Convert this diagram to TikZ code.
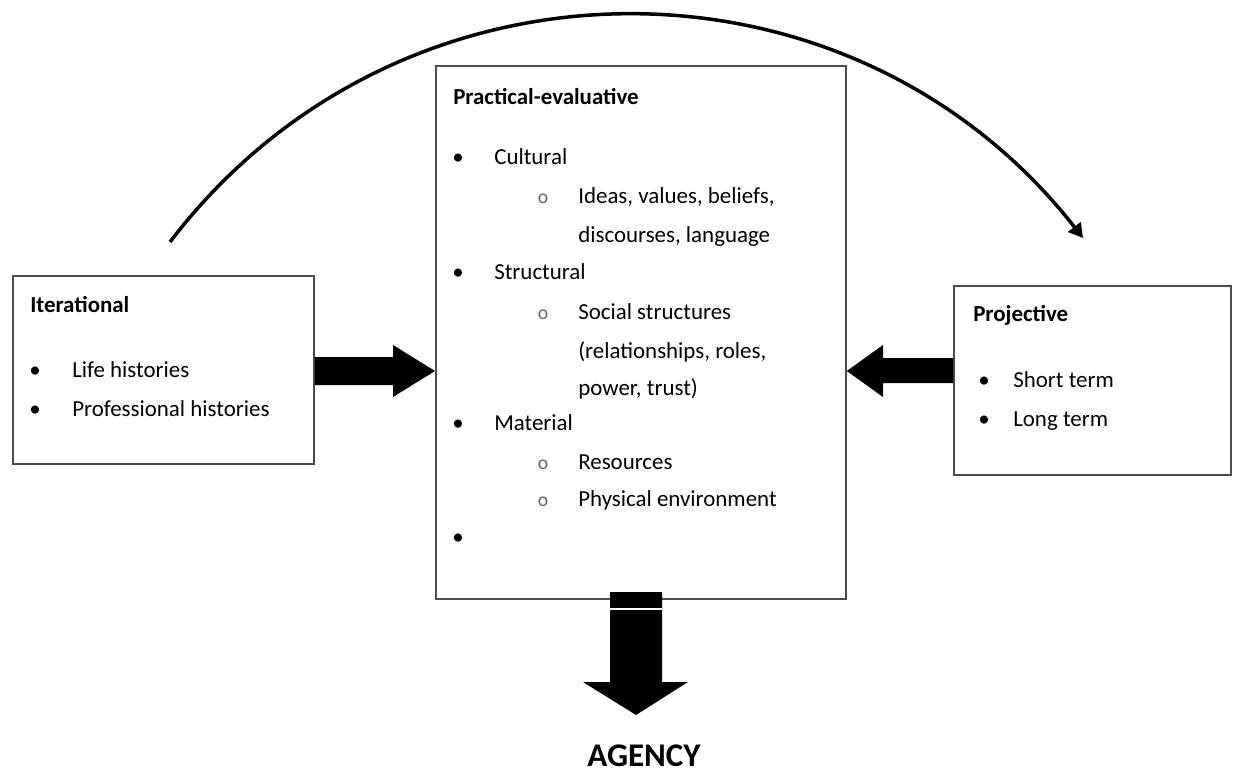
\documentclass[tikz,border=0pt]{standalone}
\usepackage{fontspec}
\setmainfont{Carlito}
\usetikzlibrary{arrows.meta}

\begin{document}
\begin{tikzpicture}[x=0.025cm, y=-0.025cm,
        box/.style={draw=black!70, line width=1.2pt, anchor=north west, inner sep=0pt},
        txt/.style={anchor=base west, inner sep=0pt, font=\fontsize{16.3}{19}\selectfont},
        title/.style={txt, font=\fontsize{16.3}{19}\selectfont\bfseries},
        dot/.style={anchor=base, inner sep=0pt, font=\fontsize{16.3}{19}\selectfont},
        ring/.style={anchor=base, inner sep=0pt, font=\fontsize{14}{19}\selectfont, text=black!60}]

        \useasboundingbox (0,0) rectangle (1237,776);

        % Draw the three boxes
        \node[box, minimum width=7.525cm, minimum height=4.7cm] (iter) at (12,275) {};
        \node[box, minimum width=10.25cm, minimum height=13.325cm] (prac) at (435,65) {};
        \node[box, minimum width=6.925cm, minimum height=4.725cm] (proj) at (953,285) {};

        % Iterational
        \node[title] (itertitle) at (30,312) {Iterational};
        \node[dot] (iterdota) at (35,377) {•};
        \node[txt] (life) at (72,377) {Life histories};
        \node[dot] (iterdotb) at (35,416) {•};
        \node[txt] (prof) at (72,416) {Professional histories};

        % Practical-evaluative
        \node[title] (practitle) at (453,104) {Practical-evaluative};
        \node[dot] (pracdota) at (458,164) {•};
        \node[txt] (cult) at (494,164) {Cultural};
        \node[ring] (ringa) at (543,203) {o};
        \node[txt] (ideas) at (578,203) {Ideas, values, beliefs,};
        \node[txt] (disc) at (578,242) {discourses, language};
        \node[dot] (pracdotb) at (458,279) {•};
        \node[txt] (struc) at (494,279) {Structural};
        \node[ring] (ringb) at (543,319) {o};
        \node[txt] (social) at (578,319) {Social structures};
        \node[txt] (rel) at (578,358) {(relationships, roles,};
        \node[txt] (power) at (578,395) {power, trust)};
        \node[dot] (pracdotc) at (458,430) {•};
        \node[txt] (mat) at (494,430) {Material};
        \node[ring] (ringc) at (543,469) {o};
        \node[txt] (res) at (578,469) {Resources};
        \node[ring] (ringd) at (543,506) {o};
        \node[txt] (phys) at (578,506) {Physical environment};
        \node[dot] (pracdotd) at (458,544) {•};

        % Projective
        \node[title] (projtitle) at (973,321) {Projective};
        \node[dot] (projdota) at (984,387) {•};
        \node[txt] (short) at (1013,387) {Short term};
        \node[dot] (projdotb) at (984,426) {•};
        \node[txt] (long) at (1013,426) {Long term};

        % Draw the block arrows
        \fill (iter.east |- 0,357) -- (393,357) -- (393,345) -- (prac.west |- 0,371)
            -- (393,397) -- (393,385) -- (iter.east |- 0,385) -- cycle;
        \fill (proj.west |- 0,358) -- (883,358) -- (883,345) -- (prac.east |- 0,371)
            -- (883,397) -- (883,383) -- (proj.west |- 0,383) -- cycle;
        \fill (610,592) -- (662,592) -- (662,682) -- (688,682) -- (636,715)
            -- (583,682) -- (610,682) -- cycle;
        \draw[white, line width=1.5pt] (610,609) -- (662,609);

        \node[anchor=base, inner sep=0pt, font=\fontsize{23.5}{28}\selectfont\bfseries] (agency) at (644,766) {AGENCY};

        % Draw the arc from past to future
        \coordinate (arcstart) at (170,242);
        \coordinate (arcend) at (1083,238);
        \draw[line width=2.5pt, -{Triangle[length=10pt, width=11pt]}]
            (arcstart) .. controls (400,-60) and (850,-60) .. (arcend);
    \end{tikzpicture}
\end{document}
